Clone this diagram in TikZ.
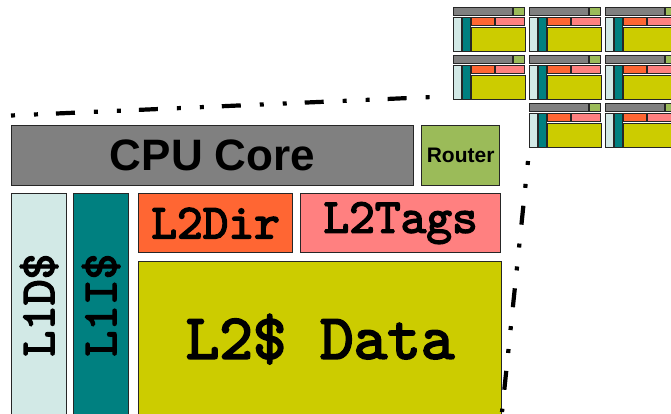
\documentclass[tikz,border=0pt]{standalone}
\usepackage{fontspec}
\setmainfont{Liberation Sans}
\newfontfamily\codefont[FakeBold=3]{lmmono10-regular.otf}
\usetikzlibrary{positioning}
\definecolor{coregray}{HTML}{808080}
\definecolor{routergreen}{HTML}{9BBB59}
\definecolor{lonedcol}{HTML}{D2E9E6}
\definecolor{loneicol}{HTML}{008080}
\definecolor{ltwodircol}{HTML}{FF6633}
\definecolor{ltwotagcol}{HTML}{FF8080}
\definecolor{ltwodatacol}{HTML}{CCCC00}
\tikzset{blk/.style={draw=black!85,line width=1.2pt,inner sep=0pt,anchor=north west}}
\tikzset{minib/.style={draw=black!85,line width=0.6pt}}
\tikzset{zoomline/.style={line width=4.2pt,dash pattern=on 4pt off 19pt on 4pt off 18pt on 19pt off 19pt}}
\tikzset{coretxt/.style={font=\fontsize{44}{44}\selectfont\bfseries}}
\tikzset{routertxt/.style={font=\fontsize{21}{21}\selectfont\bfseries}}
\tikzset{cachetxt/.style={font=\codefont\fontsize{49}{49}\selectfont}}
\tikzset{datatxt/.style={font=\codefont\fontsize{64}{64}\selectfont}}
\newcommand{\minitile}[2]{%
  \begin{scope}[shift={(#1,#2)},scale=0.1466]
    \draw[minib,fill=coregray] (0,0) rectangle (402,60);
    \draw[minib,fill=routergreen] (410,0) rectangle (489,60);
    \draw[minib,fill=lonedcol] (0,68) rectangle (55,300);
    \draw[minib,fill=loneicol] (62,68) rectangle (117,300);
    \draw[minib,fill=ltwodircol] (127,68) rectangle (281,127);
    \draw[minib,fill=ltwotagcol] (289,68) rectangle (489,127);
    \draw[minib,fill=ltwodatacol] (127,136) rectangle (491,300);
  \end{scope}}
\begin{document}
\begin{tikzpicture}[x=1pt,y=-1pt]
\useasboundingbox (0,0) rectangle (671,414);
\clip (0,0) rectangle (671,414);
% the other tiles
\foreach \tx/\ty in {453/7,529/7,605/7,453/55,529/55,605/55,529/103,605/103}
  \minitile{\tx}{\ty};
% one tile, blown up
\node (core) [blk,fill=coregray,minimum width=402pt,minimum height=60pt,coretxt] at (11,125) {CPU Core};
\node (router) [blk,fill=routergreen,minimum width=78pt,minimum height=60pt,routertxt] at (421,125) {Router};
\node (lone d) [blk,fill=lonedcol,minimum width=55pt,minimum height=223pt] at (11,193) {};
\node (lone i) [blk,fill=loneicol,minimum width=55pt,minimum height=223pt] at (73,193) {};
\node (ltwo dir) [blk,fill=ltwodircol,minimum width=154pt,minimum height=59pt,cachetxt] at (138,193) {L2Dir};
\node (ltwo tags) [blk,fill=ltwotagcol,minimum width=200pt,minimum height=59pt,cachetxt] at (300,193) {L2Tags};
\node (ltwo data) [blk,fill=ltwodatacol,minimum width=363pt,minimum height=155pt,datatxt] at (138,261) {L2\$ Data};
\node (lone d txt) [cachetxt,rotate=90] at (lone d.center) {L1D\$};
\node (lone i txt) [cachetxt,rotate=90] at (lone i.center) {L1I\$};
%
\coordinate (zl a) at (11,115.5);
\coordinate (zl b) at (432,97);
\coordinate (zr a) at (528,161);
\coordinate (zr b) at (502,412);
\draw[zoomline] (zl a) -- (zl b);
\draw[zoomline] (zr a) -- (zr b);
\end{tikzpicture}
\end{document}
